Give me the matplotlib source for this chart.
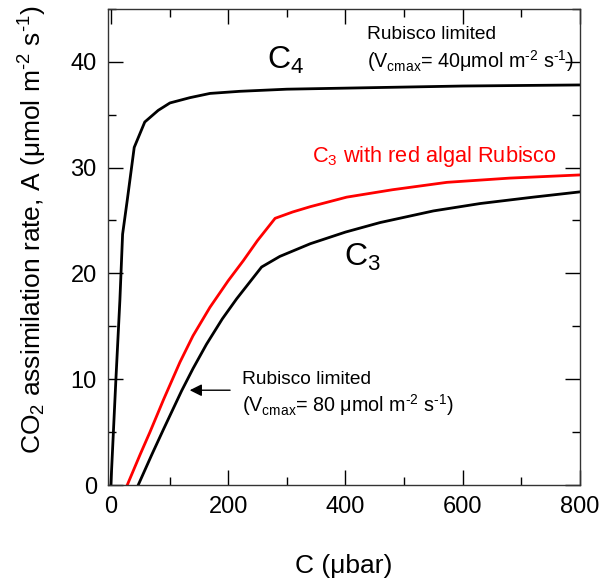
#!/usr/bin/env python3
"""A/C curves: C3, C3 with red algal Rubisco, C4"""

import matplotlib
matplotlib.use('Agg')
import matplotlib.pyplot as plt
from matplotlib.ticker import MultipleLocator

plt.rcParams['font.family'] = ['Liberation Sans', 'DejaVu Sans']
plt.rcParams['mathtext.fontset'] = 'custom'
plt.rcParams['mathtext.rm'] = 'Liberation Sans'
plt.rcParams['mathtext.it'] = 'Liberation Sans:italic'

# C4 curve
c4_c = [0, 8.5, 15.4, 20, 27.9, 39.8, 57.8, 80.7, 100.7, 134.8, 169, 220, 300, 400, 500, 600, 700, 800]
c4_a = [0, 9.9, 17.5, 23.7, 26.9, 31.9, 34.3, 35.4, 36.1, 36.6, 37.0, 37.2, 37.4, 37.5, 37.6, 37.7, 37.75, 37.8]

# C3 curve
c3_c = [46.6, 70, 90, 120.6, 140, 163, 190, 214.5, 240, 257, 288, 340, 400, 459, 550, 630, 720, 800]
c3_a = [0, 2.9, 5.3, 8.9, 11.0, 13.3, 15.7, 17.6, 19.4, 20.6, 21.6, 22.8, 23.9, 24.8, 25.9, 26.6, 27.2, 27.7]

# C3 with red algal Rubisco
red_c = [27.9, 50, 66.6, 90, 117.7, 140, 169, 200, 225.8, 250, 280, 310, 340, 402, 480, 573, 680, 800]
red_a = [0, 2.9, 5.0, 8.1, 11.6, 14.1, 16.8, 19.3, 21.2, 23.1, 25.2, 25.8, 26.3, 27.2, 27.9, 28.6, 29.0, 29.3]

fig = plt.figure(figsize=(6.03, 5.83), dpi=100)
ax = fig.add_axes([0.179, 0.168, 0.783, 0.817])

ax.plot(c4_c, c4_a, color='black', linewidth=2)
ax.plot(c3_c, c3_a, color='black', linewidth=2)
ax.plot(red_c, red_a, color='red', linewidth=2)

ax.set_xlim(-5, 800)
ax.set_ylim(0, 45)
ax.xaxis.set_major_locator(MultipleLocator(200))
ax.xaxis.set_minor_locator(MultipleLocator(100))
ax.yaxis.set_major_locator(MultipleLocator(10))
ax.yaxis.set_minor_locator(MultipleLocator(5))
ax.tick_params(which='both', direction='in', top=True, right=True, labelsize=17, width=1)
ax.tick_params(which='major', length=11, pad=8)
ax.tick_params(which='minor', length=5.5)
for sp in ax.spines.values():
    sp.set_linewidth(1)
    sp.set_color('#333333')

hy = '\u2010'  # short hyphen in superscripts, like the original
ax.set_xlabel('C (\u03bcbar)', fontsize=19, labelpad=26)
ax.set_ylabel('CO$_2$ assimilation rate, A (\u03bcmol m$^{' + hy + '2}$ s$^{' + hy + '1}$)', fontsize=19)
ax.yaxis.set_label_coords(-0.125, 0.535)

# curve labels
ax.text(266, 39.3, 'C$_4$', fontsize=23, va='baseline')
ax.text(398, 20.75, 'C$_3$', fontsize=23, va='baseline')
ax.text(343.5, 30.5, 'C$_3$ with red algal Rubisco', fontsize=15.7, color='red', va='baseline')

# annotations
ax.text(437, 42.14, 'Rubisco limited', fontsize=13.8, va='baseline')
ax.text(436, 39.46, '(V$_{\\rm cmax}$= 40\u03bcmol m$^{' + hy + '2}$ s$^{' + hy + '1}$)', fontsize=14.2, va='baseline')
ax.text(222.8, 9.53, 'Rubisco limited', fontsize=13.8, va='baseline')
ax.text(222.8, 6.92, '(V$_{\\rm cmax}$= 80 \u03bcmol m$^{' + hy + '2}$ s$^{' + hy + '1}$)', fontsize=14.2, va='baseline')
ax.annotate('', xy=(129.7, 8.96), xytext=(208, 8.96),
            arrowprops=dict(arrowstyle='-|>', color='black', lw=1, mutation_scale=18))

plt.savefig('out.png', dpi=100, facecolor='white')
